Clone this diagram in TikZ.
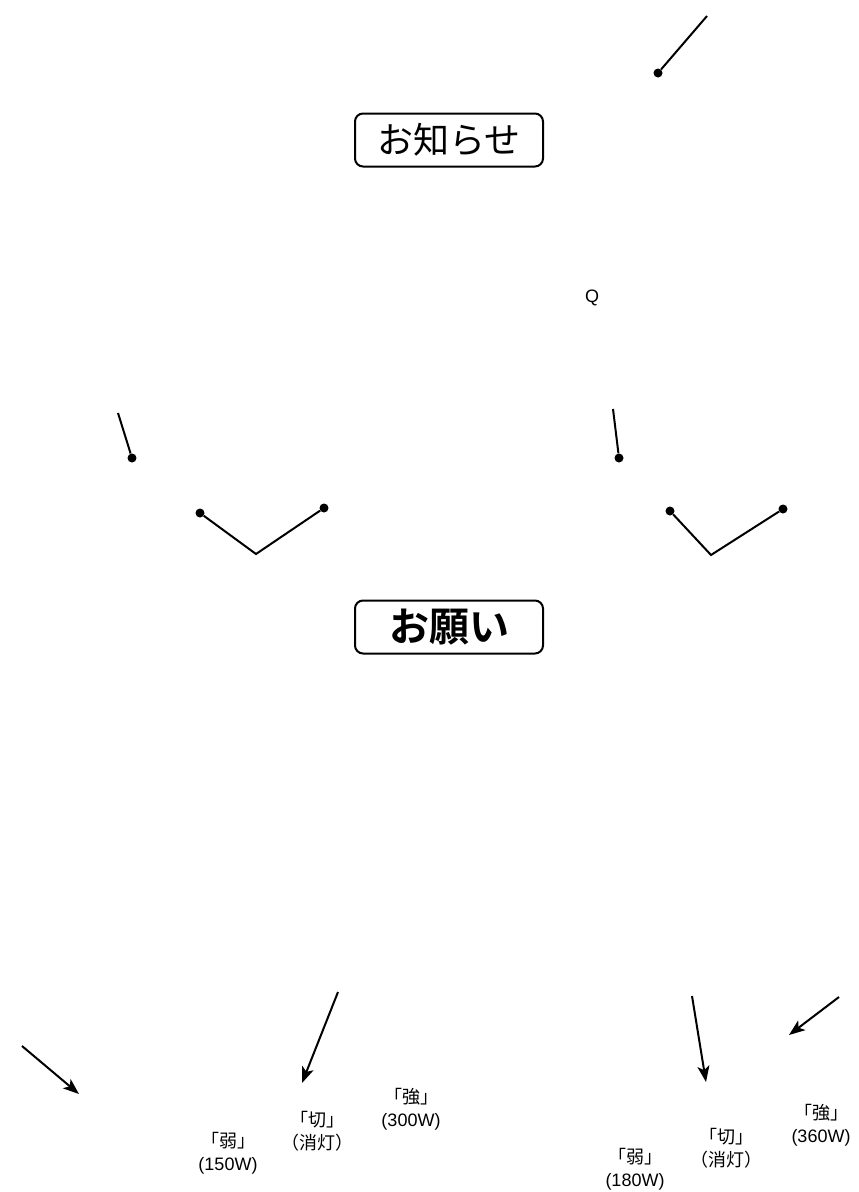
\documentclass[tikz,border=0pt]{standalone}
\usepackage{fontspec}
\setmainfont{Liberation Sans}
\newfontfamily\cjk{Noto Sans CJK JP}[BoldFont={Noto Sans CJK JP Bold}]
\usetikzlibrary{arrows.meta}
\tikzset{
  titlebox/.style={draw,line width=2pt,rounded corners=8pt,minimum width=188pt,minimum height=53pt,inner sep=0pt},
  pin/.style={circle,fill,inner sep=0pt,minimum size=9pt},
  wire/.style={line width=2pt},
  pointer/.style={line width=2pt,-{Stealth[length=16pt,width=12pt,inset=4pt]}},
  setting/.style={align=center,font=\fontsize{18}{23}\selectfont}
}

\begin{document}
\begin{tikzpicture}[x=1pt,y=-1pt]
\useasboundingbox (0,0) rectangle (859,1192);

\node[titlebox,font=\cjk\fontsize{36}{42}\selectfont] (notice) at (449,140) {お知らせ};
\node[titlebox,font=\cjk\bfseries\fontsize{40}{46}\selectfont] (request) at (449,627) {お願い};
\node[font=\fontsize{18}{20}\selectfont] (q) at (592,298) {Q};

\coordinate (topend) at (707,16);
\node[pin] (toppin) at (658,73) {};
\draw[wire] (topend) -- (toppin);

\coordinate (lend) at (118,413);
\node[pin] (lpin) at (132,458) {};
\draw[wire] (lend) -- (lpin);
\node[pin] (lva) at (200,513) {};
\coordinate (lvb) at (256,554);
\node[pin] (lvc) at (324,508) {};
\draw[wire] (lva) -- (lvb) -- (lvc);

\coordinate (rend) at (613,409);
\node[pin] (rpin) at (619,458) {};
\draw[wire] (rend) -- (rpin);
\node[pin] (rva) at (670,511) {};
\coordinate (rvb) at (711,555);
\node[pin] (rvc) at (783,509) {};
\draw[wire] (rva) -- (rvb) -- (rvc);

\node[setting] (lweak) at (228,1153) {{\cjk 「弱」}\\(150W)};
\node[setting] (loff) at (317,1131) {{\cjk 「切」}\\{\cjk （消灯）}};
\node[setting] (lstrong) at (411,1109) {{\cjk 「強」}\\(300W)};
\node[setting] (rweak) at (635,1169) {{\cjk 「弱」}\\(180W)};
\node[setting] (roff) at (726,1148) {{\cjk 「切」}\\{\cjk （消灯）}};
\node[setting] (rstrong) at (821,1125) {{\cjk 「強」}\\(360W)};

\coordinate (a1) at (22,1046);  \coordinate (a1t) at (79,1094);
\coordinate (a2) at (338,992);  \coordinate (a2t) at (302,1083);
\coordinate (a3) at (692,996);  \coordinate (a3t) at (706,1082);
\coordinate (a4) at (839,997);  \coordinate (a4t) at (789,1035);
\foreach \s/\t in {a1/a1t,a2/a2t,a3/a3t,a4/a4t}{
  \draw[pointer] (\s) -- (\t);
}
\end{tikzpicture}
\end{document}
